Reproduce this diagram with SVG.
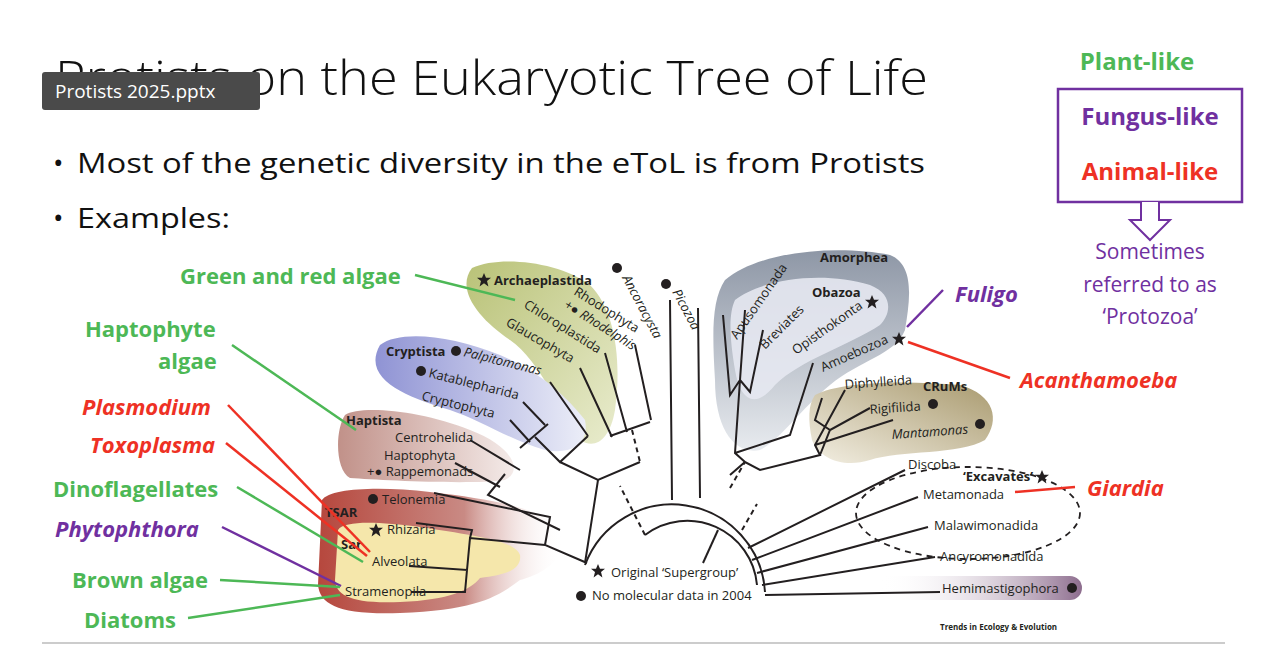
<svg xmlns="http://www.w3.org/2000/svg" width="1264" height="646" viewBox="0 0 1264 646">
<style>
text{font-family:"Open Sans","Liberation Sans",sans-serif}
.t{font-size:13px;fill:#231f20}
.b{font-weight:bold}
.i{font-style:italic}
.br{stroke:#231f20;stroke-width:2;fill:none}
.g{fill:#4db856;font-weight:bold;font-size:22px}
.r{fill:#ee3124;font-weight:bold;font-style:italic;font-size:22px}
.p{fill:#7030a0;font-weight:bold;font-style:italic;font-size:22px}
.lg{stroke:#4db856;stroke-width:2.5}
.lr{stroke:#ee3124;stroke-width:2.5}
.lp{stroke:#7030a0;stroke-width:2.5}
</style>
<defs>
<linearGradient id="gArch" x1="0" y1="0" x2="1" y2="1"><stop offset="0" stop-color="#b9c277"/><stop offset="1" stop-color="#e9ecce"/></linearGradient>
<linearGradient id="gCry" x1="0" y1="0" x2="1" y2="0"><stop offset="0" stop-color="#8f93d4"/><stop offset="1" stop-color="#eceef8"/></linearGradient>
<linearGradient id="gHap" x1="0" y1="0" x2="1" y2="0"><stop offset="0" stop-color="#c19189"/><stop offset="1" stop-color="#f4ebe9"/></linearGradient>
<linearGradient id="gTs" x1="0" y1="0" x2="1" y2="0"><stop offset="0" stop-color="#b6473d"/><stop offset="0.6" stop-color="#c98a84"/><stop offset="1" stop-color="#fff" stop-opacity="0"/></linearGradient>
<linearGradient id="gAm" x1="0" y1="0" x2="0" y2="1"><stop offset="0" stop-color="#8e97a6"/><stop offset="1" stop-color="#e8ebef"/></linearGradient>
<linearGradient id="gCr" x1="1" y1="0" x2="0" y2="1"><stop offset="0" stop-color="#a99a6f"/><stop offset="1" stop-color="#f3efe3"/></linearGradient>
<linearGradient id="gHe" x1="0" y1="0" x2="1" y2="0"><stop offset="0" stop-color="#fff" stop-opacity="0"/><stop offset="1" stop-color="#8d6d8e"/></linearGradient>
<path id="star" d="M0,-7 L2,-2.2 7,-2.2 3,1 4.4,6.5 0,3.3 -4.4,6.5 -3,1 -7,-2.2 -2,-2.2Z" fill="#231f20"/>
</defs>
<rect width="1264" height="646" fill="#fff"/>

<g id="title">
<text x="55" y="95" font-size="48" fill="#111" font-weight="300" textLength="873" lengthAdjust="spacingAndGlyphs">Protists on the Eukaryotic Tree of Life</text>
<rect x="42" y="72" width="218" height="38" rx="3" fill="#4a4a4a"/>
<text x="55" y="98" font-size="19" fill="#fff">Protists 2025.pptx</text>
</g>
<g id="bullets" font-size="28" fill="#111">
<text x="53" y="173">•</text>
<text x="77" y="173" textLength="848" lengthAdjust="spacingAndGlyphs">Most of the genetic diversity in the eToL is from Protists</text>
<text x="53" y="228">•</text>
<text x="77" y="228" textLength="153" lengthAdjust="spacingAndGlyphs">Examples:</text>
</g>
<g id="legend-box">
<text x="1137" y="70" text-anchor="middle" font-size="24" font-weight="bold" fill="#4db856">Plant-like</text>
<rect x="1058" y="89" width="184" height="113" fill="none" stroke="#7030a0" stroke-width="2.5"/>
<text x="1150" y="125" text-anchor="middle" font-size="24" font-weight="bold" fill="#7030a0">Fungus-like</text>
<text x="1150" y="180" text-anchor="middle" font-size="24" font-weight="bold" fill="#ee3124">Animal-like</text>
<path d="M1141,202 V220 H1130 L1150,240 L1170,220 H1159 V202" fill="#fff" stroke="#7030a0" stroke-width="2"/>
<g font-size="21" fill="#7030a0" text-anchor="middle">
<text x="1150" y="259">Sometimes</text><text x="1150" y="292">referred to as</text><text x="1150" y="324">‘Protozoa’</text></g>
</g>

<g id="blobs">
<path d="M472,268 C500,255 560,262 590,285 C615,310 622,360 615,410 C610,440 595,450 580,440 C565,420 540,360 510,340 C480,320 455,290 472,268Z" fill="url(#gArch)"/>
<path d="M380,345 C400,330 450,335 500,355 C540,372 565,395 585,420 C590,445 570,455 545,450 C510,440 480,420 450,410 C410,398 360,380 380,345Z" fill="url(#gCry)"/>
<path d="M345,415 C360,405 420,410 470,430 C510,445 525,470 505,480 C470,485 380,480 350,478 C335,470 335,430 345,415Z" fill="url(#gHap)"/>
<path d="M322,500 C330,488 380,486 430,492 C500,500 545,510 560,530 C570,560 540,575 520,580 C500,595 480,610 400,613 C340,615 320,605 318,585Z" fill="url(#gTs)"/>
<path d="M338,530 C345,520 380,522 420,527 C470,535 515,540 520,555 C522,570 505,575 480,578 C470,590 450,600 400,602 C350,604 336,595 335,580Z" fill="#f5e7ab"/>
<path d="M725,280 C760,250 840,245 890,255 C915,265 910,300 905,330 C895,355 860,360 830,385 C800,410 780,440 760,450 C735,455 715,430 715,380 C712,330 712,300 725,280Z" fill="url(#gAm)"/>
<path d="M735,300 C760,280 820,270 870,285 C895,295 890,315 880,325 C850,345 800,360 775,385 C755,410 740,400 735,370 C730,340 728,315 735,300Z" fill="#e6e8f1" opacity="0.9"/>
<path d="M815,395 C840,382 900,380 960,385 C995,395 1000,420 985,440 C960,455 900,450 870,460 C845,468 820,460 812,440 C808,420 808,405 815,395Z" fill="url(#gCr)"/>
<path d="M880,576 H1070 A12,12 0 0 1 1070,600 H880Z" fill="url(#gHe)"/>
<ellipse cx="968" cy="513" rx="112" ry="46" fill="none" stroke="#231f20" stroke-width="1.8" stroke-dasharray="6,5"/>
</g>

<g id="connectors">
<path class="br" d="M585,565 A93,93 0 0 1 765,592"/>
<path class="br" d="M645,535 A70,70 0 0 1 757,585"/>
<path class="br" stroke-dasharray="5,4" d="M645,535 L620,486 M632,430 L640,462 M742,530 L757,504 M730,488 L745,462"/>
<path class="br" d="M703,563 L718,530"/>
<!-- Archaeplastida -->
<path class="br" d="M635,345 L651,420 M605,353 L627,432 M580,368 L612,437 M610,436 L650,422"/>
<!-- Cryptista -->
<path class="br" d="M550,382 L588,436 M523,402 L545,425 M510,420 L530,442 M520,448 L548,424 M535,437 L560,462 L588,436 M560,462 L598,480 L640,462"/>
<!-- Haptista -->
<path class="br" d="M470,440 L520,470 M455,463 L500,487 M505,474 L488,495 L560,530 M598,480 L585,563"/>
<!-- TSAR -->
<path class="br" d="M587,563 L545,545 L550,517 L434,493 M545,545 L470,538 L467,570 L409,566 M467,570 L465,592 L411,592 M470,538 L472,530 L416,523"/>
<path class="br" d="M672,500 L670,300 M700,498 L698,308"/>
<!-- right clades -->
<path class="br" d="M745,462 L735,453 L740,380 L745,310 M740,380 L750,392 L763,330 M740,380 L730,395 L723,315 M735,453 L790,435 L813,363 M730,475 L745,462 L760,470 L820,455 L815,445 L845,390 M820,455 L830,430 L870,408 M830,430 L815,420 L822,398 M815,445 L893,420"/>
<path class="br" d="M748,548 L905,470 M752,560 L918,497 M757,573 L928,527 M762,585 L935,557 M765,595 L940,592"/>
</g>

<g id="labels-tree">
<use href="#star" x="484" y="280"/>
<text class="t b" x="494" y="285" font-size="14">Archaeplastida</text>
<text class="t" transform="translate(573,294) rotate(32)">Rhodophyta</text>
<text class="t i" font-size="9" transform="translate(563,307) rotate(32)">+● Rhodelphis</text>
<text class="t" transform="translate(523,307) rotate(32)">Chloroplastida</text>
<text class="t" transform="translate(505,325) rotate(30)">Glaucophyta</text>
<circle cx="617" cy="268" r="5" fill="#231f20"/>
<text class="t i" transform="translate(622,278) rotate(62)">Ancoracysta</text>
<circle cx="666" cy="284" r="5" fill="#231f20"/>
<text class="t i" transform="translate(672,292) rotate(62)">Picozoa</text>
<text class="t b" x="386" y="356">Cryptista</text>
<circle cx="456" cy="351" r="5" fill="#231f20"/>
<text class="t i" transform="translate(463,356) rotate(14)">Palpitomonas</text>
<circle cx="421" cy="371" r="5" fill="#231f20"/>
<text class="t" transform="translate(428,377) rotate(14)">Katablepharida</text>
<text class="t" transform="translate(421,400) rotate(14)">Cryptophyta</text>
<text class="t b" x="346" y="425">Haptista</text>
<text class="t" x="395" y="442">Centrohelida</text>
<text class="t" x="384" y="460">Haptophyta</text>
<text class="t" x="367" y="476" font-size="10">+● Rappemonads</text>
<circle cx="373" cy="499" r="5" fill="#231f20"/>
<text class="t" x="382" y="504">Telonemia</text>
<text class="t b" x="325" y="517">TSAR</text>
<use href="#star" x="376" y="530"/>
<text class="t" x="387" y="534">Rhizaria</text>
<text class="t b" x="341" y="549">Sar</text>
<text class="t" x="372" y="566">Alveolata</text>
<text class="t" x="345" y="596">Stramenopila</text>
<use href="#star" x="598" y="571"/>
<text class="t" x="611" y="577" font-size="12">Original ‘Supergroup’</text>
<circle cx="581" cy="596" r="5" fill="#231f20"/>
<text class="t" x="592" y="600" font-size="12">No molecular data in 2004</text>
<text class="t b" x="820" y="262">Amorphea</text>
<text class="t" transform="translate(737,340) rotate(-55)">Apusomonada</text>
<text class="t b" x="812" y="297">Obazoa</text>
<use href="#star" x="872" y="302"/>
<text class="t" transform="translate(765,350) rotate(-45)">Breviates</text>
<text class="t" transform="translate(796,355) rotate(-35)">Opisthokonta</text>
<text class="t" transform="translate(823,372) rotate(-24)">Amoebozoa</text>
<use href="#star" x="899" y="339"/>
<text class="t" transform="translate(845,389) rotate(-4)">Diphylleida</text>
<text class="t b" x="923" y="391">CRuMs</text>
<text class="t" transform="translate(870,414) rotate(-4)">Rigifilida</text>
<circle cx="933" cy="404" r="5" fill="#231f20"/>
<text class="t i" transform="translate(892,439) rotate(-4)">Mantamonas</text>
<circle cx="980" cy="424" r="5" fill="#231f20"/>
<text class="t" x="908" y="469">Discoba</text>
<text class="t b" x="963" y="481" font-size="12">‘Excavates’</text>
<use href="#star" x="1042" y="477"/>
<text class="t" x="923" y="499">Metamonada</text>
<text class="t" x="934" y="530">Malawimonadida</text>
<text class="t" x="940" y="561">Ancyromonadida</text>
<text class="t" x="942" y="593">Hemimastigophora</text>
<circle cx="1072" cy="588" r="5" fill="#231f20"/>
<text x="940" y="630" font-size="8" font-weight="bold" fill="#231f20">Trends in Ecology &amp; Evolution</text>
</g>

<g id="annotations">
<line class="lg" x1="415" y1="275" x2="515" y2="300"/>
<text class="g" x="180" y="284">Green and red algae</text>
<line class="lg" x1="232" y1="345" x2="356" y2="430"/>
<text class="g" x="85" y="337">Haptophyte</text><text class="g" x="158" y="369">algae</text>
<line class="lr" x1="228" y1="405" x2="370" y2="552"/>
<text class="r" x="82" y="415">Plasmodium</text>
<line class="lr" x1="226" y1="443" x2="367" y2="556"/>
<text class="r" x="90" y="453">Toxoplasma</text>
<line class="lg" x1="237" y1="487" x2="363" y2="562"/>
<text class="g" x="53" y="497">Dinoflagellates</text>
<line class="lp" x1="222" y1="527" x2="341" y2="586"/>
<text class="p" x="55" y="537">Phytophthora</text>
<line class="lg" x1="220" y1="580" x2="340" y2="587"/>
<text class="g" x="72" y="588">Brown algae</text>
<line class="lg" x1="188" y1="618" x2="340" y2="595"/>
<text class="g" x="84" y="628">Diatoms</text>
<line class="lp" x1="943" y1="290" x2="907" y2="327"/>
<text class="p" x="955" y="302">Fuligo</text>
<line class="lr" x1="1010" y1="378" x2="908" y2="342"/>
<text class="r" x="1020" y="388">Acanthamoeba</text>
<line class="lr" x1="1075" y1="487" x2="1015" y2="492"/>
<text class="r" x="1087" y="496">Giardia</text>
</g>
<line x1="42" y1="643" x2="1225" y2="643" stroke="#bbb" stroke-width="1.5"/>
</svg>
